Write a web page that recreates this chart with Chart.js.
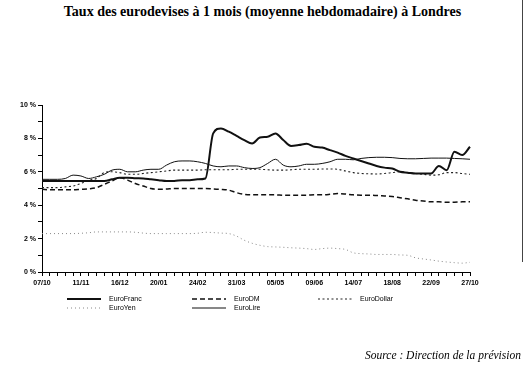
<!DOCTYPE html>
<html>
<head>
<meta charset="utf-8">
<script src="https://cdn.jsdelivr.net/npm/chart.js@4/dist/chart.umd.min.js"></script>
<style>
  body { margin: 0; background: #fff; }
  #wrap { position: relative; width: 525px; height: 374px; overflow: hidden; background: #fff; }
  #title { position: absolute; top: 4px; left: 0; width: 525px; text-align: center; font: bold 14px "Liberation Serif", serif; color: #000; }
  #source { position: absolute; top: 349px; right: 4px; font: italic 11.5px "Liberation Serif", serif; color: #000; }
  #edge { position: absolute; left: 522px; top: 0; width: 1px; height: 262px; background: #444; }
  canvas { position: absolute; left: 0; top: 0; }
</style>
</head>
<body>
<div id="wrap">
  <div id="title">Taux des eurodevises à 1 mois (moyenne hebdomadaire) à Londres</div>
  <canvas id="chart" width="525" height="374"></canvas>
  <div id="source">Source : Direction de la prévision</div>
  <div id="edge"></div>
</div>
<script>
// weekly dates (Monday averages)
const weeks = [
  "07/10", "14/10", "21/10", "28/10", "04/11", "11/11", "18/11", "25/11", "02/12", "09/12",
  "16/12", "23/12", "30/12", "06/01", "13/01", "20/01", "27/01", "03/02", "10/02", "17/02",
  "24/02", "03/03", "10/03", "17/03", "24/03", "31/03", "07/04", "14/04", "21/04", "28/04",
  "05/05", "12/05", "19/05", "26/05", "02/06", "09/06", "16/06", "23/06", "30/06", "07/07",
  "14/07", "21/07", "28/07", "04/08", "11/08", "18/08", "25/08", "01/09", "08/09", "15/09",
  "22/09", "29/09", "06/10", "13/10", "20/10", "27/10"
];
const xTickLabels = ["07/10", "11/11", "16/12", "20/01", "24/02", "31/03", "05/05", "09/06", "14/07", "18/08", "22/09", "27/10"];
const yTickValues = [0, 2, 4, 6, 8, 10];

const euroFranc = [
  5.45, 5.45, 5.45, 5.45, 5.45, 5.45, 5.45, 5.45, 5.45, 5.55,
  5.65, 5.65, 5.62, 5.6, 5.55, 5.5, 5.45, 5.45, 5.5, 5.5,
  5.55, 5.6, 8.3, 8.6, 8.4, 8.15, 7.9, 7.7, 8.05, 8.1,
  8.3, 7.9, 7.55, 7.6, 7.68, 7.5, 7.45, 7.3, 7.15, 6.95,
  6.8, 6.65, 6.5, 6.35, 6.25, 6.2, 6.0, 5.95, 5.9, 5.9,
  5.9, 6.35, 6.1, 7.2, 7.0, 7.5
];
const euroDM = [
  4.95, 4.92, 4.92, 4.92, 4.92, 4.95, 4.98, 5.05, 5.25, 5.45,
  5.65, 5.5, 5.3, 5.15, 5.0, 4.95, 4.97, 5.0, 5.0, 5.0,
  5.0, 5.0, 4.97, 4.95, 4.9, 4.75, 4.65, 4.62, 4.62, 4.62,
  4.62, 4.6, 4.6, 4.6, 4.6, 4.62, 4.62, 4.65, 4.7, 4.67,
  4.62, 4.6, 4.6, 4.58, 4.55, 4.52, 4.45, 4.38, 4.3, 4.25,
  4.2, 4.2, 4.18, 4.18, 4.2, 4.2
];
const euroDollar = [
  5.05, 5.05, 5.05, 5.1, 5.15, 5.3, 5.5, 5.6, 5.95, 6.0,
  5.95, 5.85, 5.85, 5.9, 5.95, 6.0, 6.05, 6.1, 6.1, 6.1,
  6.1, 6.12, 6.12, 6.12, 6.12, 6.15, 6.15, 6.15, 6.15, 6.12,
  6.1, 6.1, 6.12, 6.15, 6.15, 6.15, 6.17, 6.17, 6.15, 6.05,
  5.95, 5.9, 5.88, 5.87, 5.9, 5.95, 6.0, 5.95, 5.9, 5.85,
  5.8, 5.82, 5.95, 5.95, 5.9, 5.85
];
const euroYen = [
  2.3, 2.3, 2.3, 2.3, 2.3, 2.32, 2.35, 2.4, 2.4, 2.4,
  2.4, 2.4, 2.38, 2.33, 2.3, 2.3, 2.3, 2.3, 2.3, 2.3,
  2.32, 2.38, 2.36, 2.33, 2.3, 2.15, 1.9, 1.72, 1.6, 1.52,
  1.5, 1.48, 1.45, 1.43, 1.4, 1.35, 1.4, 1.43, 1.4, 1.35,
  1.15, 1.1, 1.08, 1.05, 1.05, 1.05, 1.02, 1.0, 0.85, 0.78,
  0.72, 0.65, 0.6, 0.56, 0.53, 0.58
];
const euroLire = [
  5.55, 5.55, 5.55, 5.6, 5.8, 5.75, 5.6, 5.7, 5.85, 6.1,
  6.15, 6.0, 6.0, 6.1, 6.15, 6.15, 6.4, 6.6, 6.65, 6.65,
  6.6, 6.5, 6.35, 6.3, 6.35, 6.35, 6.25, 6.2, 6.25, 6.5,
  6.75, 6.4, 6.3, 6.35, 6.45, 6.45, 6.5, 6.6, 6.75, 6.75,
  6.72, 6.8, 6.85, 6.87, 6.87, 6.85, 6.8, 6.78, 6.78, 6.8,
  6.82, 6.82, 6.82, 6.8, 6.78, 6.75
];

// legend slots: line start x, baseline y
const legendSlots = [
  { x: 67, y: 299 }, { x: 192, y: 299 }, { x: 318, y: 299 },
  { x: 67, y: 308 }, { x: 192, y: 308 }
];

const scanLegend = {
  id: "scanLegend",
  afterDraw(chart) {
    const ctx = chart.ctx;
    ctx.save();
    chart.data.datasets.forEach((ds, i) => {
      const slot = legendSlots[i];
      ctx.strokeStyle = ds.borderColor;
      ctx.lineWidth = ds.borderWidth;
      ctx.setLineDash(ds.borderDash || []);
      ctx.beginPath();
      ctx.moveTo(slot.x, slot.y);
      ctx.lineTo(slot.x + 34, slot.y);
      ctx.stroke();
      ctx.setLineDash([]);
      ctx.fillStyle = "#000";
      ctx.font = "7px 'Liberation Sans', Arial, sans-serif";
      ctx.textBaseline = "middle";
      ctx.fillText(ds.label, slot.x + 42, slot.y);
    });
    ctx.restore();
  }
};

const tickFont = { family: "'Liberation Sans', Arial, sans-serif", size: 7, weight: "bold" };

new Chart(document.getElementById("chart").getContext("2d"), {
  type: "line",
  data: {
    labels: weeks,
    datasets: [
      { label: "EuroFranc", data: euroFranc, borderColor: "#111", borderWidth: 2 },
      { label: "EuroDM", data: euroDM, borderColor: "#111", borderWidth: 1.5, borderDash: [5, 3] },
      { label: "EuroDollar", data: euroDollar, borderColor: "#222", borderWidth: 1.1, borderDash: [2, 2.5] },
      { label: "EuroYen", data: euroYen, borderColor: "#888", borderWidth: 1, borderDash: [1, 3] },
      { label: "EuroLire", data: euroLire, borderColor: "#111", borderWidth: 1 }
    ]
  },
  options: {
    responsive: false,
    animation: false,
    devicePixelRatio: 1,
    layout: { padding: { top: 105, right: 55, bottom: 86, left: 0 } },
    plugins: { legend: { display: false }, tooltip: { enabled: false } },
    elements: {
      point: { radius: 0 },
      line: { cubicInterpolationMode: "monotone", fill: false }
    },
    scales: {
      x: {
        offset: false,
        grid: { drawOnChartArea: false, tickLength: 4, color: "#000" },
        border: { color: "#000", width: 1 },
        ticks: {
          autoSkip: false,
          maxRotation: 0,
          padding: 3,
          color: "#000",
          font: tickFont,
          callback(value) {
            const lab = this.getLabelForValue(value);
            return xTickLabels.includes(lab) ? lab : "";
          }
        },
        afterFit(scale) { scale.height = 16; }
      },
      y: {
        min: 0,
        max: 10,
        grid: { drawOnChartArea: false, tickLength: 4, color: "#000" },
        border: { color: "#000", width: 1 },
        ticks: {
          stepSize: 1,
          padding: 2,
          color: "#000",
          font: tickFont,
          callback(value) {
            return yTickValues.includes(value) ? value + " %" : "";
          }
        },
        afterFit(scale) { scale.width = 42; }
      }
    }
  },
  plugins: [scanLegend]
});
</script>
</body>
</html>
